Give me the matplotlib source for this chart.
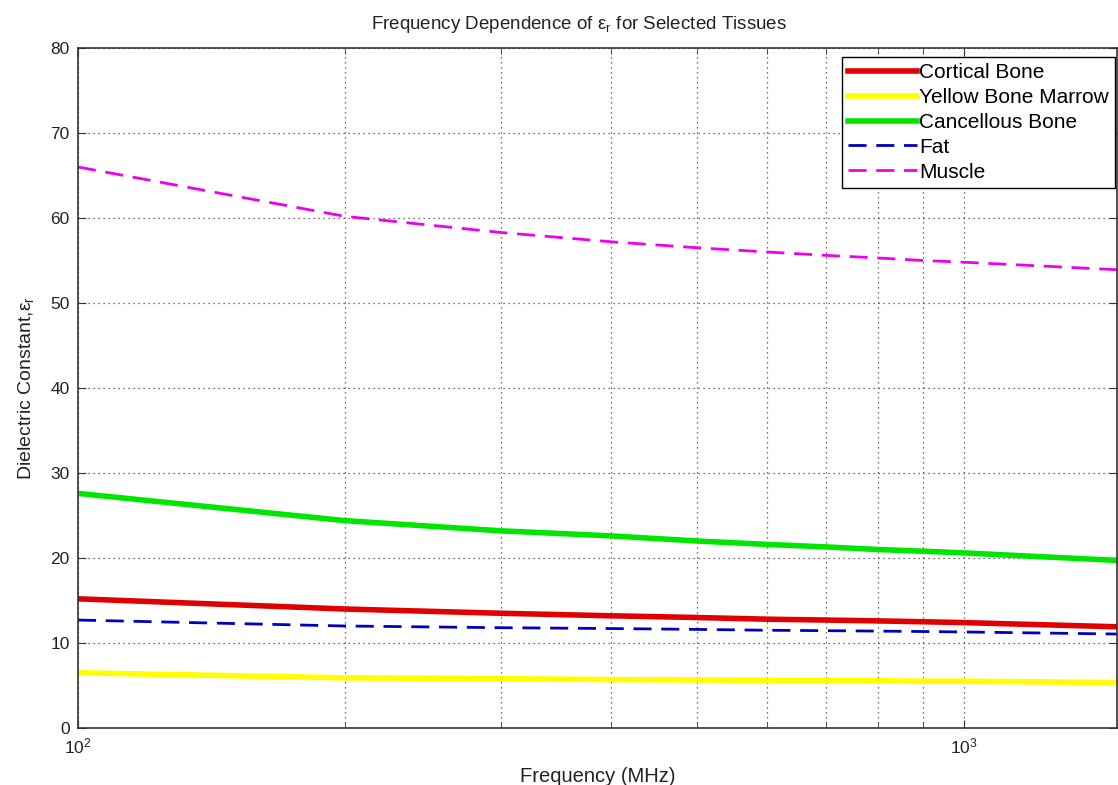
import matplotlib.pyplot as plt
import numpy as np

plt.rcParams['font.family'] = ['Liberation Sans', 'DejaVu Sans']
plt.rcParams['mathtext.fontset'] = 'custom'
plt.rcParams['mathtext.rm'] = 'Liberation Sans'
plt.rcParams['mathtext.it'] = 'Liberation Sans'

# frequencies (MHz) and dielectric constants
freq = [100, 200, 300, 400, 500, 600, 700, 800, 900, 1000, 1500]
cortical = [15.2, 14.0, 13.5, 13.2, 13.0, 12.8, 12.7, 12.6, 12.5, 12.4, 11.9]
yellow_marrow = [6.5, 5.9, 5.8, 5.7, 5.65, 5.6, 5.6, 5.55, 5.5, 5.5, 5.35]
cancellous = [27.6, 24.4, 23.2, 22.6, 22.0, 21.6, 21.3, 21.0, 20.8, 20.6, 19.7]
fat = [12.7, 12.0, 11.8, 11.7, 11.6, 11.5, 11.45, 11.4, 11.35, 11.3, 11.05]
muscle = [66.0, 60.2, 58.3, 57.2, 56.5, 56.0, 55.6, 55.3, 55.0, 54.8, 53.9]

fig = plt.figure(figsize=(11.18, 7.85), dpi=100)
ax = fig.add_axes([78 / 1118, 57 / 785, (1117 - 78) / 1118, (728 - 48) / 785])

ax.semilogx(freq, cortical, color='#e00000', lw=4, label='Cortical Bone')
ax.semilogx(freq, yellow_marrow, color='#ffff00', lw=4, label='Yellow Bone Marrow')
ax.semilogx(freq, cancellous, color='#00e600', lw=4, label='Cancellous Bone')
ax.semilogx(freq, fat, color='#0000c0', lw=2, dashes=(6.5, 3.5), label='Fat')
ax.semilogx(freq, muscle, color='#ee00ee', lw=2, dashes=(6.5, 3.5), label='Muscle')

ax.set_xlim(100, 1490)
ax.set_ylim(0, 80)
ax.set_yticks(np.arange(0, 81, 10))
ax.grid(True, which='both', axis='x', color='#444444', linestyle=(0, (1, 3)), lw=0.9)
ax.grid(True, which='major', axis='y', color='#444444', linestyle=(0, (1, 3)), lw=0.9)
ax.tick_params(which='both', direction='in', labelsize=12.5, top=True, right=True,
               color='#333333', labelcolor='#222222')
ax.tick_params(which='major', length=6)
ax.tick_params(which='minor', length=4)
ax.tick_params(axis='y', pad=6)
ax.tick_params(axis='x', pad=6)
for s in ax.spines.values():
    s.set_color('#333333')
    s.set_linewidth(1.2)

ax.set_title('Frequency Dependence of $\\mathregular{\\epsilon_r}$ for Selected Tissues',
             fontsize=13.5, pad=14, color='#222222', x=0.482)
ax.set_xlabel('Frequency (MHz)', fontsize=14.5, labelpad=8, color='#222222')
ax.set_ylabel('Dielectric Constant,$\\mathregular{\\epsilon_r}$', fontsize=14,
              labelpad=10, color='#222222')

leg = ax.legend(loc='upper right', bbox_to_anchor=(1115 / 1118, 1 - 57 / 785),
                bbox_transform=fig.transFigure, fontsize=15, fancybox=False,
                framealpha=1, edgecolor='black', borderaxespad=0, handlelength=3.3,
                handletextpad=0.12, labelspacing=0.28, borderpad=0.3)
leg.get_frame().set_linewidth(1.0)

fig.savefig('out.png', dpi=100)
